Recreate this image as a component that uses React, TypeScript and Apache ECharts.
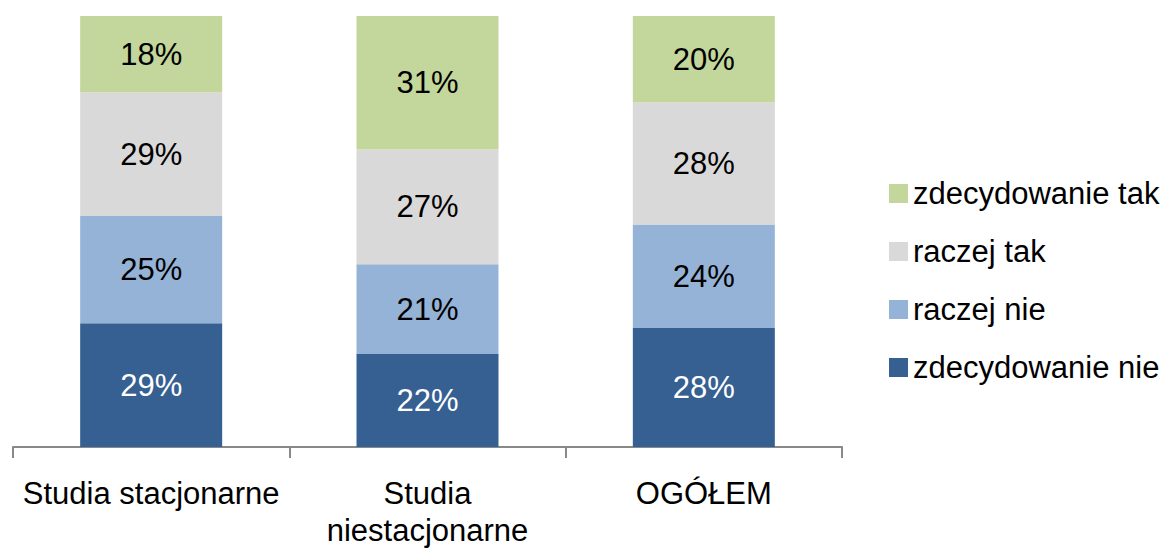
import React, { useEffect, useRef } from "react";
import * as echarts from "echarts";

const categories = ["Studia stacjonarne", "Studia\nniestacjonarne", "OGÓŁEM"];
const zdecydowanieNie = [28.7, 21.6, 27.6];
const raczejNie = [24.9, 20.8, 24.0];
const raczejTak = [28.7, 26.6, 28.4];
const zdecydowanieTak = [17.7, 31.0, 20.0];
const legendOrder = ["zdecydowanie tak", "raczej tak", "raczej nie", "zdecydowanie nie"];

const FONT = "'Liberation Sans', Arial, sans-serif";

export default function App() {
  const ref = useRef<HTMLDivElement>(null);
  useEffect(() => {
    if (!ref.current) return;
    const chart = echarts.init(ref.current, null, { renderer: "svg" });
    const mk = (name: string, data: number[], color: string, labelColor: string) => ({
      name,
      type: "bar",
      stack: "total",
      data,
      barWidth: 142,
      itemStyle: { color },
      label: {
        show: true,
        position: "inside",
        color: labelColor,
        fontFamily: FONT,
        fontSize: 31,
        formatter: (p: any) => Math.round(p.value) + "%",
      },
    });
    chart.setOption({
      animation: false,
      textStyle: { fontFamily: FONT },
      grid: { left: 13, right: 319, top: 16, bottom: 104, containLabel: false },
      legend: {
        orient: "vertical",
        left: 884,
        top: 173,
        itemWidth: 19,
        itemHeight: 19,
        itemGap: 27,
        data: legendOrder,
        icon: "rect",
        textStyle: { fontFamily: FONT, fontSize: 31, color: "#000", lineHeight: 31 },
      },
      xAxis: {
        type: "category",
        data: categories,
        axisLine: { lineStyle: { color: "#898989", width: 2 } },
        axisTick: { show: true, length: 11, lineStyle: { color: "#898989", width: 2 } },
        axisLabel: {
          interval: 0,
          margin: 28,
          color: "#000",
          fontFamily: FONT,
          fontSize: 31,
          lineHeight: 37,
        },
      },
      yAxis: { type: "value", min: 0, max: 100, show: false },
      series: [
        mk("zdecydowanie nie", zdecydowanieNie, "#376092", "#fff"),
        mk("raczej nie", raczejNie, "#95B3D7", "#000"),
        mk("raczej tak", raczejTak, "#D9D9D9", "#000"),
        mk("zdecydowanie tak", zdecydowanieTak, "#C3D69B", "#000"),
      ],
    });
    return () => chart.dispose();
  }, []);
  return (
    <div
      ref={ref}
      style={{ position: "fixed", left: 0, top: 0, width: 1161, height: 551, background: "#fff" }}
    />
  );
}
